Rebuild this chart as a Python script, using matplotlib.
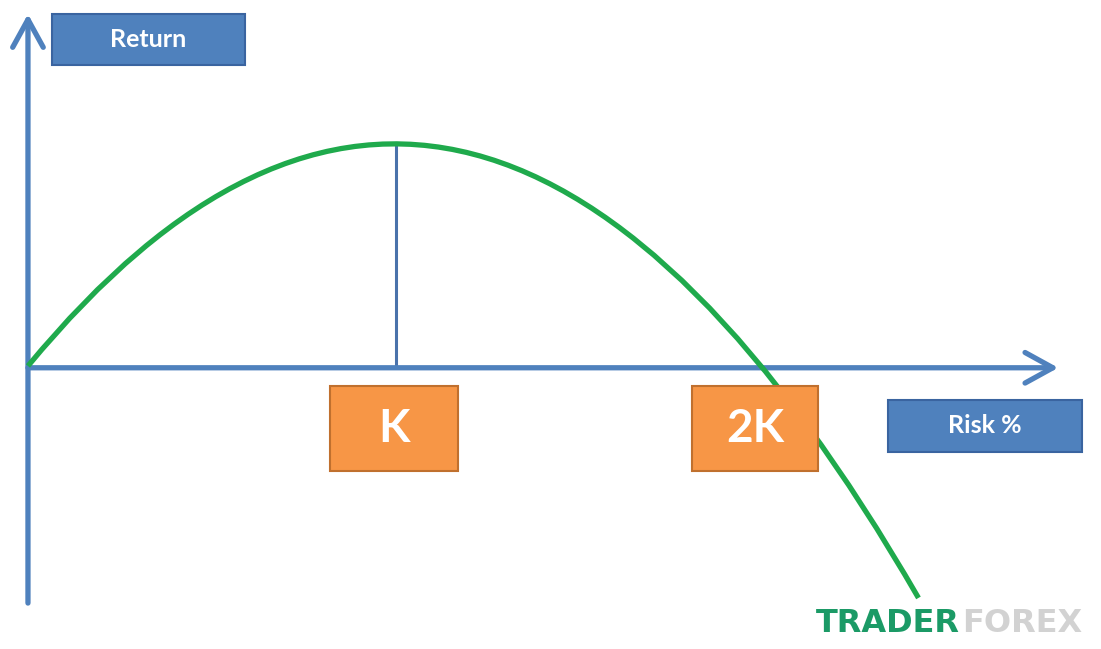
import matplotlib.pyplot as plt
from matplotlib.path import Path
from matplotlib.patches import PathPatch, Rectangle

# curve control points (quadratic bezier), in units of K / peak return
curve_x = [0.0, 1.21, 2.42]
curve_y = [0.0, 2.42, -1.04]
peak_x = 1.0
peak_y = 1.0

# labelled boxes: (x0, y0, x1, y1)
box_labels = ["Return", "K", "2K", "Risk %"]
box_x0 = [0.065, 0.821, 1.804, 2.337]
box_x1 = [0.590, 1.168, 2.147, 2.864]
box_y0 = [1.350, -0.471, -0.471, -0.386]
box_y1 = [1.578, -0.090, -0.090, -0.152]
box_kind = ["axis", "mark", "mark", "axis"]

blue = "#4f81bd"
blue_edge = "#3a64a0"
orange = "#f79646"
orange_edge = "#c0702e"
green = "#1faa4c"

fig = plt.figure(figsize=(11.01, 6.49), dpi=100)
ax = fig.add_axes([0, 0, 1, 1])
ax.set_xlim(-0.076, 2.916)
ax.set_ylim(-1.269, 1.641)
ax.axis("off")

# axes with arrows
arrow = dict(arrowstyle="->,head_length=1.0,head_width=0.55", mutation_scale=20,
             color=blue, lw=3.8, shrinkA=0, shrinkB=0)
ax.annotate("", xy=(0, 1.578), xytext=(0, -1.063), arrowprops=arrow)
ax.annotate("", xy=(2.80, -0.008), xytext=(0, -0.008), arrowprops=arrow)

# vertical line at K
ax.plot([peak_x, peak_x], [0, peak_y], color="#4a72ab", lw=2.2, zorder=2)

# green curve
verts = list(zip(curve_x, curve_y))
path = Path(verts, [Path.MOVETO, Path.CURVE3, Path.CURVE3])
ax.add_patch(PathPatch(path, facecolor="none", edgecolor=green, lw=3.8,
                       capstyle="butt", zorder=3))

for lab, x0, x1, y0, y1, kind in zip(box_labels, box_x0, box_x1, box_y0, box_y1, box_kind):
    if kind == "mark":
        fc, ec, fs = orange, orange_edge, 33
    else:
        fc, ec, fs = blue, blue_edge, 18
    ax.add_patch(Rectangle((x0, y0), x1 - x0, y1 - y0, facecolor=fc,
                           edgecolor=ec, lw=1.5, zorder=4))
    ax.text((x0 + x1) / 2, (y0 + y1) / 2, lab, ha="center", va="center",
            color="white", fontsize=fs, fontweight="bold", family="Lato",
            zorder=5)

# watermark
fig.text(0.872, 0.040, "TRADER", color="#1b9a66", fontsize=23,
         fontweight="heavy", family="DejaVu Sans", ha="right", va="center")
fig.text(0.874, 0.040, "FOREX", color="#d2d2d2", fontsize=23,
         fontweight="bold", family="DejaVu Sans", ha="left", va="center")

fig.savefig("out.png", dpi=100)
